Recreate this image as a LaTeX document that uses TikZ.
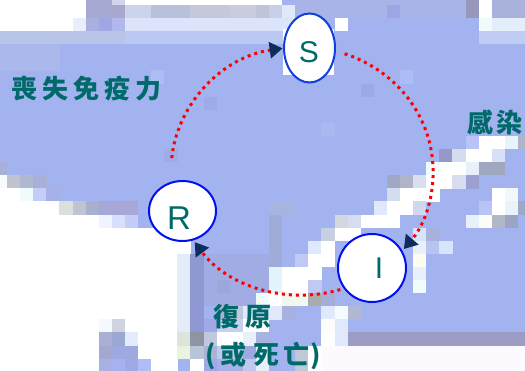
\documentclass[tikz,border=0pt]{standalone}
\usepackage{fontspec}
\usetikzlibrary{shapes.geometric,arrows.meta,calc}
\setmainfont{Liberation Sans}
\newfontfamily\cjk{Noto Sans CJK TC}
\definecolor{pw}{HTML}{A3B3F0}
\definecolor{tealtx}{HTML}{006A6A}
\definecolor{navyarr}{HTML}{0E2C5C}
\definecolor{sblue}{HTML}{1040D8}
\definecolor{nblue}{HTML}{0010F0}
\newcommand\mblock[5]{\definecolor{tmpc}{HTML}{#1}\fill[tmpc] ({7+13.1*(#2)},{-5-13.1*(#4)}) rectangle ({7.2+13.1*(#3+1)},{-5.2-13.1*(#5+1)});}
\newcommand\mcell[3]{\mblock{#1}{#2}{#2}{#3}{#3}}
\tikzset{
  statenode/.style={ellipse,draw,fill=white,line width=2pt,inner sep=0pt},
  letter/.style={text=tealtx,font=\fontsize{30}{30}\selectfont,inner sep=0pt},
  cjklabel/.style={text=tealtx,font=\cjk\bfseries\fontsize{26}{26}\selectfont,inner sep=0pt,anchor=west},
  flow/.style={red,line width=3pt,dash pattern=on 3pt off 4pt,
    -{Triangle[length=13pt,width=16pt,color=navyarr]}}
}
\begin{document}
\begin{tikzpicture}[x=1pt,y=1pt]
\useasboundingbox (0,0) rectangle (525,-371);
\begin{scope}
\clip (0,0) rectangle (525,-371);
\fill[pw] (0,0) rectangle (525,-371);
% ---- top rows
\mblock{FFFFFF}{-1}{5}{-1}{0}
\mblock{FFFFFF}{-1}{4}{1}{1}
\mcell{E8EEFC}{5}{1}
\mblock{A6AAD2}{6}{7}{-1}{0}
\mcell{D0D4EC}{8}{-1}
\mcell{A8A8CC}{8}{0}
\mcell{A8B0E0}{6}{1}
\mcell{A0A6E4}{7}{1}
\mcell{B0B8EC}{8}{1}
\mblock{FFFFFF}{9}{20}{-1}{-1}
\mblock{CCD4EC}{9}{10}{0}{0}
\mblock{B8C0DC}{11}{13}{0}{0}
\mblock{C4C8D8}{14}{16}{0}{0}
\mblock{C8CCDC}{17}{18}{0}{0}
\mcell{C0C4D8}{19}{0}
\mcell{C8D0E8}{20}{0}
\mcell{E0E8FC}{21}{0}
\mblock{DCE4FC}{9}{21}{1}{1}
\mblock{B8C4E8}{-1}{8}{2}{2}
\mblock{BCC8F4}{9}{21}{2}{2}
\mblock{A8B4E8}{22}{34}{-1}{0}
\mcell{9EA4E4}{29}{0}
\mblock{9898BC}{35}{35}{-1}{0}
\mblock{FFFFFF}{36}{36}{-1}{0}
\mblock{A8B2DA}{37}{39}{-1}{0}
\mcell{F0FCFC}{36}{1}
\mblock{E4EEFA}{37}{39}{1}{1}
\mblock{C0CCF4}{36}{39}{2}{2}
\mcell{FFFFFF}{25}{1}
% ---- texture in the middle
\mblock{AAB8EC}{-1}{3}{3}{4}
\mcell{B0BCF4}{11}{5}
\mcell{9CACE8}{15}{7}
\mcell{A8B8F0}{24}{9}
\mcell{9CA8E8}{27}{6}
\mcell{ACBCF4}{30}{5}
\mcell{A0ACE8}{12}{11}
\mblock{A8B4E0}{20}{21}{15}{15}
\mblock{A0ACD8}{20}{20}{16}{19}
% ---- left lower
\mcell{A8B0D8}{-1}{12}
\mcell{F8FCFC}{-1}{13}
\mcell{C0C4D0}{0}{13}
\mcell{B0B8D4}{1}{13}
\mcell{A8B0D8}{2}{13}
\mblock{FFFFFF}{-1}{0}{14}{14}
\mcell{F0FCFC}{1}{14}
\mcell{C4CCF8}{2}{14}
\mcell{A8B0E8}{3}{14}
\mblock{FFFFFF}{-1}{3}{15}{15}
\mcell{DCE0DC}{4}{15}
\mcell{C0C4D0}{5}{15}
\mcell{A8B0D0}{6}{15}
\mblock{A8A8D8}{7}{9}{15}{15}
\mblock{FFFFFF}{-1}{6}{16}{16}
\mcell{F0F4FF}{7}{16}
\mcell{D8E0FC}{8}{16}
\mcell{C4CCF8}{9}{16}
\mblock{FFFFFF}{-1}{12}{17}{27}
\mblock{FFFFFF}{13}{13}{17}{18}
\mblock{E4ECF8}{13}{13}{19}{24}
\mcell{DCE4DC}{13}{25}
\mcell{E8F4E0}{13}{26}
\mblock{9098D4}{14}{14}{19}{24}
\mcell{9094A0}{14}{25}
\mcell{B8C4D8}{14}{26}
\mcell{FFFFFF}{14}{27}
\mcell{F4F8FF}{7}{24}
\mcell{D0D4E0}{8}{24}
\mcell{A8B0D4}{7}{25}
\mcell{9CA8D4}{8}{25}
\mcell{E4ECFC}{9}{25}
\mcell{A4A8D0}{7}{26}
\mblock{A0A8E0}{8}{9}{26}{26}
\mcell{A8B0E4}{7}{27}
\mcell{A8B0F0}{8}{27}
\mcell{A0A8E8}{9}{27}
\mcell{B0BCF4}{10}{27}
% ---- lower middle
\mblock{A2ACE4}{15}{19}{19}{22}
\mcell{9CA8D8}{16}{21}
\mcell{A8B0D8}{16}{23}
\mcell{C0C8E0}{17}{23}
\mcell{E0E8FC}{18}{23}
\mcell{D0D8F0}{19}{23}
\mcell{A0A8E8}{15}{24}
\mblock{C8D0F0}{16}{17}{24}{24}
\mblock{FFFFFF}{18}{19}{24}{24}
\mcell{C0C8E0}{15}{25}
\mblock{FFFFFF}{16}{17}{25}{25}
\mcell{E8F0FC}{18}{25}
\mcell{A8B4E0}{19}{25}
\mcell{A8B4D4}{15}{26}
\mblock{C0C8EC}{16}{17}{26}{26}
\mcell{A0A8E0}{18}{26}
\mcell{E8F0FC}{19}{26}
\mcell{A0A8E8}{15}{27}
\mblock{A8B0E8}{16}{17}{27}{27}
\mcell{C0C8F0}{18}{27}
\mcell{E8F0FC}{19}{27}
% ---- diagonal streak
\mcell{B8C4F8}{35}{10}
\mblock{FFFFFF}{36}{37}{10}{10}
\mcell{E8F4FC}{38}{10}
\mcell{B0B4C8}{39}{10}
\mcell{9898C8}{33}{11}
\mcell{D4DCF0}{34}{11}
\mblock{FFFFFF}{35}{36}{11}{11}
\mcell{D8E0F8}{37}{11}
\mcell{F0FCFC}{32}{12}
\mblock{FFFFFF}{33}{34}{12}{12}
\mcell{E8F0FC}{35}{12}
\mblock{A0A8C0}{36}{37}{12}{12}
\mcell{A0A8C4}{29}{13}
\mcell{B0B4C8}{30}{13}
\mcell{D8E0F0}{31}{13}
\mblock{FFFFFF}{32}{33}{13}{13}
\mcell{D8DCF0}{34}{13}
\mcell{9CA0D0}{35}{13}
\mcell{D4DCF0}{29}{14}
\mblock{FFFFFF}{30}{32}{14}{14}
\mcell{FFFFFF}{37}{14}
\mcell{F0F8FC}{38}{14}
\mcell{E0E8FC}{28}{15}
\mblock{FFFFFF}{29}{30}{15}{15}
\mcell{D0D8F0}{31}{15}
\mcell{B8C4F4}{36}{15}
\mcell{FFFFFF}{37}{15}
\mcell{E8F4FC}{38}{15}
\mcell{A0A8C8}{39}{15}
\mcell{D4D8DC}{25}{16}
\mcell{D8DCF0}{26}{16}
\mblock{FFFFFF}{27}{29}{16}{16}
\mcell{E8F0FC}{35}{16}
\mcell{FCFCF8}{36}{16}
\mcell{B0B8C8}{37}{16}
\mcell{9CA4C4}{38}{16}
\mcell{C8D0E0}{24}{17}
\mblock{FFFFFF}{25}{26}{17}{17}
\mcell{D8E4FC}{31}{17}
\mcell{A8B0DC}{32}{17}
\mcell{E0E8FC}{23}{18}
\mcell{FFFFFF}{24}{18}
\mcell{E8F0FC}{31}{18}
\mcell{B8C4F0}{32}{18}
\mcell{D8E4FC}{33}{18}
\mcell{C0C8F4}{22}{19}
\mblock{FFFFFF}{23}{24}{19}{19}
\mcell{FCFCF0}{31}{19}
\mcell{E4F4FC}{20}{20}
\mblock{FFFFFF}{21}{23}{20}{20}
\mcell{E8F0FC}{31}{20}
\mcell{E4F4FC}{20}{21}
\mblock{FFFFFF}{21}{22}{21}{21}
\mcell{C0C8F4}{23}{21}
\mcell{F0FCFC}{31}{21}
\mcell{F0FCFC}{19}{22}
\mcell{FFFFFF}{20}{22}
\mcell{EEF8F0}{21}{22}
\mcell{F0F8F0}{22}{22}
\mcell{A8ACAC}{23}{22}
\mcell{A4ACD8}{24}{22}
\mcell{E0E8FC}{20}{23}
\mcell{A8B0E0}{21}{23}
\mcell{E0E8FC}{24}{23}
\mcell{F4FCFF}{25}{23}
\mcell{B0B8D4}{26}{23}
\mcell{FCFCFF}{24}{24}
\mcell{E0E8FC}{25}{24}
\mcell{FFFFFF}{24}{25}
\mcell{E0E8FC}{25}{25}
\mblock{9C9CC4}{26}{39}{25}{25}
\mblock{FCFAFF}{24}{39}{26}{27}
\mblock{C0C8D8}{22}{22}{26}{27}
\mblock{FFFFFF}{23}{23}{26}{27}
\end{scope}
% white square behind S
\fill[white] (283,-29) rectangle (334,-75);
% state nodes
\node[statenode,draw=sblue,minimum width=51pt,minimum height=69pt] (S) at (309.5,-48) {};
\node[statenode,draw=nblue,minimum width=67pt,minimum height=60pt] (R) at (182.5,-211) {};
\node[statenode,draw=nblue,minimum width=68pt,minimum height=68pt] (I) at (372,-268) {};
% letters
\node[letter] (lS) at (309,-52) {S};
\node[letter,font=\fontsize{33}{33}\selectfont] (lR) at (179,-218) {R};
\node[letter] (lI) at (379,-268) {I};
% flows on one ellipse
\coordinate (c) at (302,-171);
\draw[flow] ($(c)+(71:131 and 124)$) coordinate (sOut)
  arc[start angle=71,end angle=-39,x radius=131pt,y radius=124pt];
\draw[flow] ($(c)+(-73:131 and 124)$) coordinate (iOut)
  arc[start angle=-73,end angle=-145,x radius=131pt,y radius=124pt];
\draw[flow] ($(c)+(-186:131 and 124)$) coordinate (rOut)
  arc[start angle=-186,end angle=-261.5,x radius=131pt,y radius=124pt];
% labels
\node[cjklabel] (loss) at (11,-89) {喪\kern5pt失\kern5pt免\kern5pt疫\kern5pt力};
\node[cjklabel] (inf) at (467,-122) {感\kern3pt染};
\node[cjklabel] (rec) at (213,-317) {復\kern6pt原};
\node[cjklabel] (rec2) at (205,-356) {(\kern5pt或\kern7pt死\kern4pt亡\kern1pt)};
\end{tikzpicture}
\end{document}
